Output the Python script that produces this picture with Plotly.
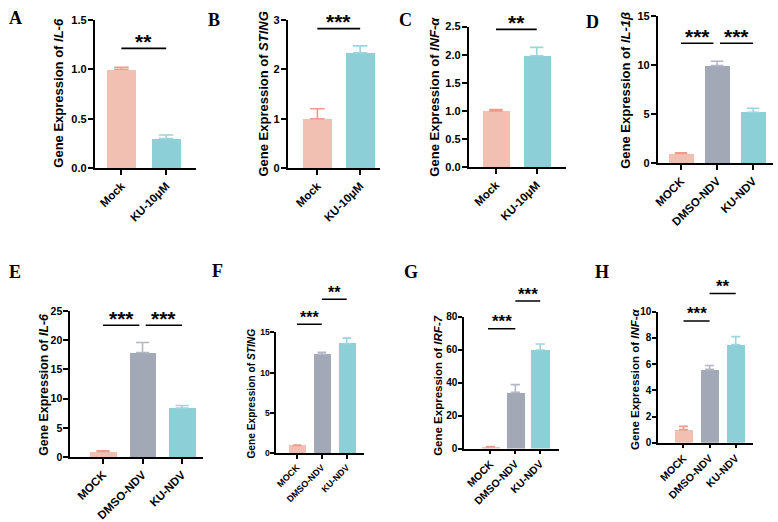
import plotly.graph_objects as go

W, H = 778, 522

# ---------------- data ----------------
groups_2 = ["Mock", "KU-10μM"]
groups_3 = ["MOCK", "DMSO-NDV", "KU-NDV"]

il6_A = [1.00, 0.30]
il6_A_err = [0.02, 0.035]
sting_B = [1.00, 2.33]
sting_B_err = [0.20, 0.14]
infa_C = [1.00, 1.98]
infa_C_err = [0.025, 0.15]
il1b_D = [1.00, 9.95, 5.19]
il1b_D_err = [0.06, 0.43, 0.40]
il6_E = [1.00, 17.9, 8.4]
il6_E_err = [0.12, 1.7, 0.45]
sting_F = [1.00, 12.3, 13.6]
sting_F_err = [0.05, 0.24, 0.68]
irf7_G = [1.0, 34.1, 59.8]
irf7_G_err = [0.2, 4.7, 3.6]
infa_H = [1.00, 5.6, 7.5]
infa_H_err = [0.25, 0.3, 0.6]

PINK, GREY, TEAL = "#F2BFB3", "#A3A8B6", "#8DCFD6"
PINK_E, GREY_E, TEAL_E = "#EC9C8A", "#B3B7C4", "#9AD6DC"

# panel layout (pixel geometry) and styles
panels = [
    dict(letter="A", lpos=(12, 12.5), cats=groups_2, y=il6_A, e=il6_A_err, gene="IL-6",
         x0=91, x1=193, ytop=14, y0=166, tick0=118, tickN=163, barw=29,
         rng=[0, 1.5], dtick=0.5, fmt=".1f", tpos=(55, 89), tsize=13, ksize=11.5, ysize=11,
         tlen=5, sig=[(0, 1, 1.21, "**")], ssize=21),
    dict(letter="B", lpos=(211.5, 14.5), cats=groups_2, y=sting_B, e=sting_B_err, gene="STING",
         x0=285, x1=378, ytop=14, y0=166, tick0=315, tickN=358, barw=29,
         rng=[0, 3], dtick=1, fmt="d", tpos=(261, 90), tsize=13, ksize=11.5, ysize=11,
         tlen=5, sig=[(0, 1, 2.82, "***")], ssize=21),
    dict(letter="C", lpos=(404, 14), cats=groups_2, y=infa_C, e=infa_C_err, gene="INF-α",
         x0=467, x1=565, ytop=21, y0=165, tick0=494.5, tickN=535.5, barw=27,
         rng=[0, 2.5], dtick=0.5, fmt=".1f", tpos=(433, 93), tsize=13, ksize=11.5, ysize=11,
         tlen=5, sig=[(0, 1, 2.45, "**")], ssize=21),
    dict(letter="D", lpos=(591.5, 16.5), cats=groups_3, y=il1b_D, e=il1b_D_err, gene="IL-1β",
         x0=657, x1=773, ytop=10, y0=161, tick0=680.5, tickN=753, barw=25,
         rng=[0, 15], dtick=5, fmt="d", tpos=(624, 86), tsize=13, ksize=11.5, ysize=11,
         tlen=5, sig=[(0, 0.9, 12.2, "***"), (1.08, 2, 12.2, "***")], ssize=21),
    dict(letter="E", lpos=(11, 272.5), cats=groups_3, y=il6_E, e=il6_E_err, gene="IL-6",
         x0=66, x1=200, ytop=312, y0=462, tick0=99.5, tickN=179, barw=26.5,
         rng=[0, 25], dtick=5, fmt="d", tpos=(40, 388), tsize=12.4, ksize=11.5, ysize=10.5,
         tlen=4.5, sig=[(0, 0.92, 22.55, "***"), (1.08, 2, 22.55, "***")], ssize=21),
    dict(letter="F", lpos=(215, 271), cats=groups_3, y=sting_F, e=sting_F_err, gene="STING",
         x0=273, x1=362, ytop=334, y0=458, tick0=294.5, tickN=344.5, barw=17,
         rng=[0, 15], dtick=5, fmt="d", tpos=(249, 397), tsize=10.2, ksize=9, ysize=8.5,
         tlen=3.5, sig=[(0, 1, 16.0, "***"), (1, 2, 19.1, "**")], ssize=16),
    dict(letter="G", lpos=(409, 272.5), cats=groups_3, y=irf7_G, e=irf7_G_err, gene="IRF-7",
         x0=462, x1=558, ytop=318, y0=453, tick0=489, tickN=539, barw=18.5,
         rng=[0, 80], dtick=20, fmt="d", tpos=(436, 388), tsize=11.5, ksize=10.5, ysize=10,
         tlen=3.5, sig=[(-0.1, 1, 72.7, "***"), (1, 2, 89.5, "***")], ssize=17),
    dict(letter="H", lpos=(601.5, 272.5), cats=groups_3, y=infa_H, e=infa_H_err, gene="INF-α",
         x0=657, x1=753, ytop=313, y0=447, tick0=683, tickN=735.5, barw=18,
         rng=[0, 10], dtick=2, fmt="d", tpos=(634, 382), tsize=11.5, ksize=10.5, ysize=10,
         tlen=3.5, sig=[(0, 1, 9.3, "***"), (1, 2, 11.4, "**")], ssize=17),
]

FONT = "Arial, Liberation Sans, sans-serif"
fig = go.Figure()
annotations = []
shapes = []
layout_axes = {}

for i, p in enumerate(panels):
    k = "" if i == 0 else str(i + 1)
    n = len(p["cats"])
    s = (p["tickN"] - p["tick0"]) / (n - 1)
    xr = [(p["x0"] - p["tick0"]) / s, (p["x1"] - p["tick0"]) / s]
    xdom = [p["x0"] / W, p["x1"] / W]
    ydom = [1 - p["y0"] / H, 1 - p["ytop"] / H]
    cols = [PINK, TEAL] if n == 2 else [PINK, GREY, TEAL]
    ecols = [PINK_E, TEAL_E] if n == 2 else [PINK_E, GREY_E, TEAL_E]
    xs = list(range(n))
    fig.add_trace(go.Bar(
        x=xs, y=p["y"], width=p["barw"] / s,
        marker=dict(color=cols, line=dict(width=0)),
        xaxis="x" + k, yaxis="y" + k, showlegend=False))
    for j in range(n):
        fig.add_trace(go.Scatter(
            x=[xs[j]], y=[p["y"][j]], mode="markers",
            marker=dict(size=0.1, color="rgba(0,0,0,0)"),
            error_y=dict(type="data", symmetric=False, array=[p["e"][j]], arrayminus=[0],
                         color=ecols[j], thickness=1.6, width=p["barw"] * 0.25),
            xaxis="x" + k, yaxis="y" + k, showlegend=False, hoverinfo="skip"))
    xfont = dict(family=FONT, size=p["ksize"], color="black", weight="bold")
    yfont = dict(family=FONT, size=p["ysize"], color="black", weight="bold")
    layout_axes["xaxis" + k] = dict(
        domain=xdom, range=xr, anchor="y" + k, tickmode="array", tickvals=xs,
        ticktext=p["cats"], tickangle=-45, showline=True, linecolor="black", linewidth=1.5,
        ticks="outside", ticklen=p["tlen"], tickwidth=1.5, tickcolor="black", showgrid=False,
        zeroline=False, tickfont=xfont, fixedrange=True)
    layout_axes["yaxis" + k] = dict(
        domain=ydom, range=p["rng"], anchor="x" + k, dtick=p["dtick"], tick0=0,
        tickformat=p["fmt"], showline=True, linecolor="black", linewidth=1.5,
        ticks="outside", ticklen=p["tlen"], tickwidth=1.5, tickcolor="black", showgrid=False,
        zeroline=False, tickfont=yfont, fixedrange=True, ticklabelstandoff=-1)
    annotations.append(dict(
        x=p["tpos"][0] / W, y=1 - p["tpos"][1] / H, xref="paper", yref="paper",
        text="Gene Expression of <i>%s</i>" % p["gene"], textangle=-90, showarrow=False,
        xanchor="center", yanchor="middle",
        font=dict(family=FONT, size=p["tsize"], color="black", weight="bold")))
    annotations.append(dict(
        x=p["lpos"][0] / W, y=1 - p["lpos"][1] / H, xref="paper", yref="paper",
        text=p["letter"], showarrow=False, xanchor="center", yanchor="middle",
        font=dict(family="Times New Roman, Liberation Serif, serif", size=18,
                  color="black", weight="bold")))
    r0, r1 = p["rng"]
    for (a, b, yv, lab) in p["sig"]:
        py = ydom[0] + (yv - r0) / (r1 - r0) * (ydom[1] - ydom[0])
        shapes.append(dict(type="line", xref="x" + k, yref="paper", x0=a, x1=b,
                           y0=py, y1=py, line=dict(color="black", width=1.6)))
        annotations.append(dict(
            x=(a + b) / 2, y=py, xref="x" + k, yref="paper", text=lab, showarrow=False,
            xanchor="center", yanchor="middle", yshift=7,
            font=dict(family=FONT, size=p["ssize"], color="black", weight="bold")))

fig.update_layout(
    width=W, height=H, margin=dict(l=0, r=0, t=0, b=0),
    paper_bgcolor="white", plot_bgcolor="white", bargap=0,
    annotations=annotations, shapes=shapes, **layout_axes)

fig.write_html("out.html")
